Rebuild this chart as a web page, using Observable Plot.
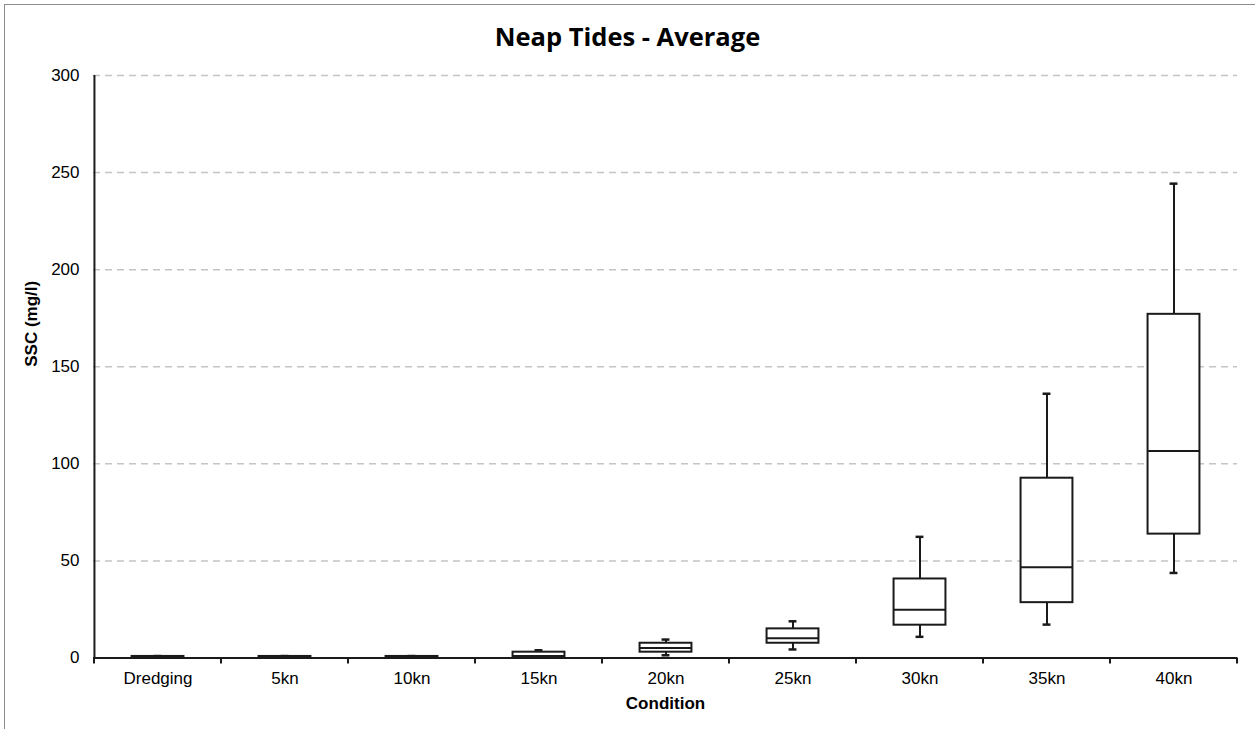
<!DOCTYPE html>
<html>
<head>
<meta charset="utf-8">
<script src="https://cdn.jsdelivr.net/npm/d3@7"></script>
<script src="https://cdn.jsdelivr.net/npm/@observablehq/plot@0.6"></script>
<style>
  html, body { margin: 0; padding: 0; background: #fff; }
  #chart { position: relative; width: 1255px; height: 729px; overflow: hidden; font-family: "Liberation Sans", Arial, sans-serif; }
  #chart .edge-left { position: absolute; left: 4px; top: 4px; width: 1px; height: 725px; background: #8c8c8c; }
  #chart .edge-top { position: absolute; left: 4px; top: 4px; width: 1251px; height: 1px; background: #8c8c8c; }
  #title { height: 52px; box-sizing: border-box; padding-top: 21px; text-align: center; font-family: "Open Sans", sans-serif; font-weight: bold; font-size: 25.5px; line-height: 30px; color: #000; }
  #plot svg { display: block; }
</style>
</head>
<body>
<div id="chart">
  <div id="title">Neap Tides - Average</div>
  <div id="plot"></div>
  <div class="edge-left"></div>
  <div class="edge-top"></div>
</div>
<script>
// Suspended sediment concentration (mg/l) per condition: box-and-whisker summaries
const conditions = ["Dredging", "5kn", "10kn", "15kn", "20kn", "25kn", "30kn", "35kn", "40kn"];
const minimum    = [0.2, 0.2, 0.2, 0.3, 1.4, 4.4, 10.9, 17.2, 43.8];
const lowerQuart = [0.3, 0.3, 0.3, 0.5, 3.0, 7.6, 16.9, 28.5, 63.8];
const median     = [0.5, 0.5, 0.5, 1.0, 5.2, 10.2, 24.8, 46.7, 106.6];
const upperQuart = [0.8, 0.8, 0.8, 3.0, 7.6, 15.0, 40.7, 92.6, 177.0];
const maximum    = [1.0, 1.0, 1.0, 4.0, 9.5, 18.9, 62.4, 136.1, 244.3];
const yTicks     = [0, 50, 100, 150, 200, 250, 300];

const rows = conditions.map((c, i) => ({
  condition: c,
  min: minimum[i], q1: lowerQuart[i], med: median[i], q3: upperQuart[i], max: maximum[i]
}));

const width = 1255, height = 677;
const marginLeft = 93, marginRight = 18, marginTop = 23, marginBottom = 71.5;
const band = (width - marginLeft - marginRight) / conditions.length;
const boxInset = (band - 52) / 2;
const capInset = (band - 8) / 2;
const ink = "#1a1a1a";

const chart = Plot.plot({
  width, height, marginLeft, marginRight, marginTop, marginBottom,
  style: { fontFamily: "'Liberation Sans', Arial, sans-serif", fontSize: "17px", color: "#000", background: "#fff" },
  x: { type: "band", domain: conditions, padding: 0, label: null },
  y: { domain: [0, 300], label: null },
  marks: [
    // dashed horizontal gridlines
    Plot.ruleY(yTicks.filter(d => d > 0), { stroke: "#c4c4c4", strokeWidth: 1.5, strokeDasharray: "7,5" }),
    // whiskers and caps
    Plot.ruleX(rows, { x: "condition", y1: "q3", y2: "max", stroke: ink, strokeWidth: 2 }),
    Plot.ruleX(rows, { x: "condition", y1: "min", y2: "q1", stroke: ink, strokeWidth: 2 }),
    Plot.tickY(rows, { x: "condition", y: "max", stroke: ink, strokeWidth: 2.5, insetLeft: capInset, insetRight: capInset }),
    Plot.tickY(rows, { x: "condition", y: "min", stroke: ink, strokeWidth: 2.5, insetLeft: capInset, insetRight: capInset }),
    // boxes and medians
    Plot.barY(rows, { x: "condition", y1: "q1", y2: "q3", fill: "#fff", stroke: ink, strokeWidth: 2, insetLeft: boxInset, insetRight: boxInset }),
    Plot.tickY(rows, { x: "condition", y: "med", stroke: ink, strokeWidth: 2, insetLeft: boxInset, insetRight: boxInset }),
    // axis lines
    Plot.ruleY([0], { stroke: ink, strokeWidth: 2 }),
    Plot.ruleX([conditions[0]], { y1: 0, y2: 300, dx: -band / 2, stroke: ink, strokeWidth: 2 }),
    // tick labels
    Plot.axisX({ tickSize: 0, tickPadding: 14, fontSize: 17 }),
    Plot.axisY({ ticks: yTicks, tickSize: 0, tickPadding: 14, fontSize: 17 }),
    // small y tick marks to the left of the axis
    Plot.tickY(yTicks, { y: d => d, x: conditions[0], dx: -band / 2 - 2, insetLeft: band / 2 - 4, insetRight: band / 2 + 4, stroke: ink, strokeWidth: 2 }),
    // axis titles
    Plot.text(["Condition"], { frameAnchor: "bottom", dy: 51, fontWeight: "bold", fontSize: 17 }),
    Plot.text(["SSC (mg/l)"], { frameAnchor: "left", dx: -62, rotate: -90, fontWeight: "bold", fontSize: 17 })
  ]
});

// boundary tick marks between categories (and at the right end of the axis), placed with the band scale
const xs = chart.scale("x");
const ys = chart.scale("y");
const y0 = ys.apply(0);
const edges = conditions.map(c => xs.apply(c)).concat([xs.apply(conditions[conditions.length - 1]) + xs.bandwidth]);
d3.select(chart).append("g")
  .attr("stroke", ink).attr("stroke-width", 2)
  .selectAll("line").data(edges).join("line")
  .attr("x1", d => d).attr("x2", d => d)
  .attr("y1", y0).attr("y2", y0 + 6);

document.getElementById("plot").appendChild(chart);
</script>
</body>
</html>
